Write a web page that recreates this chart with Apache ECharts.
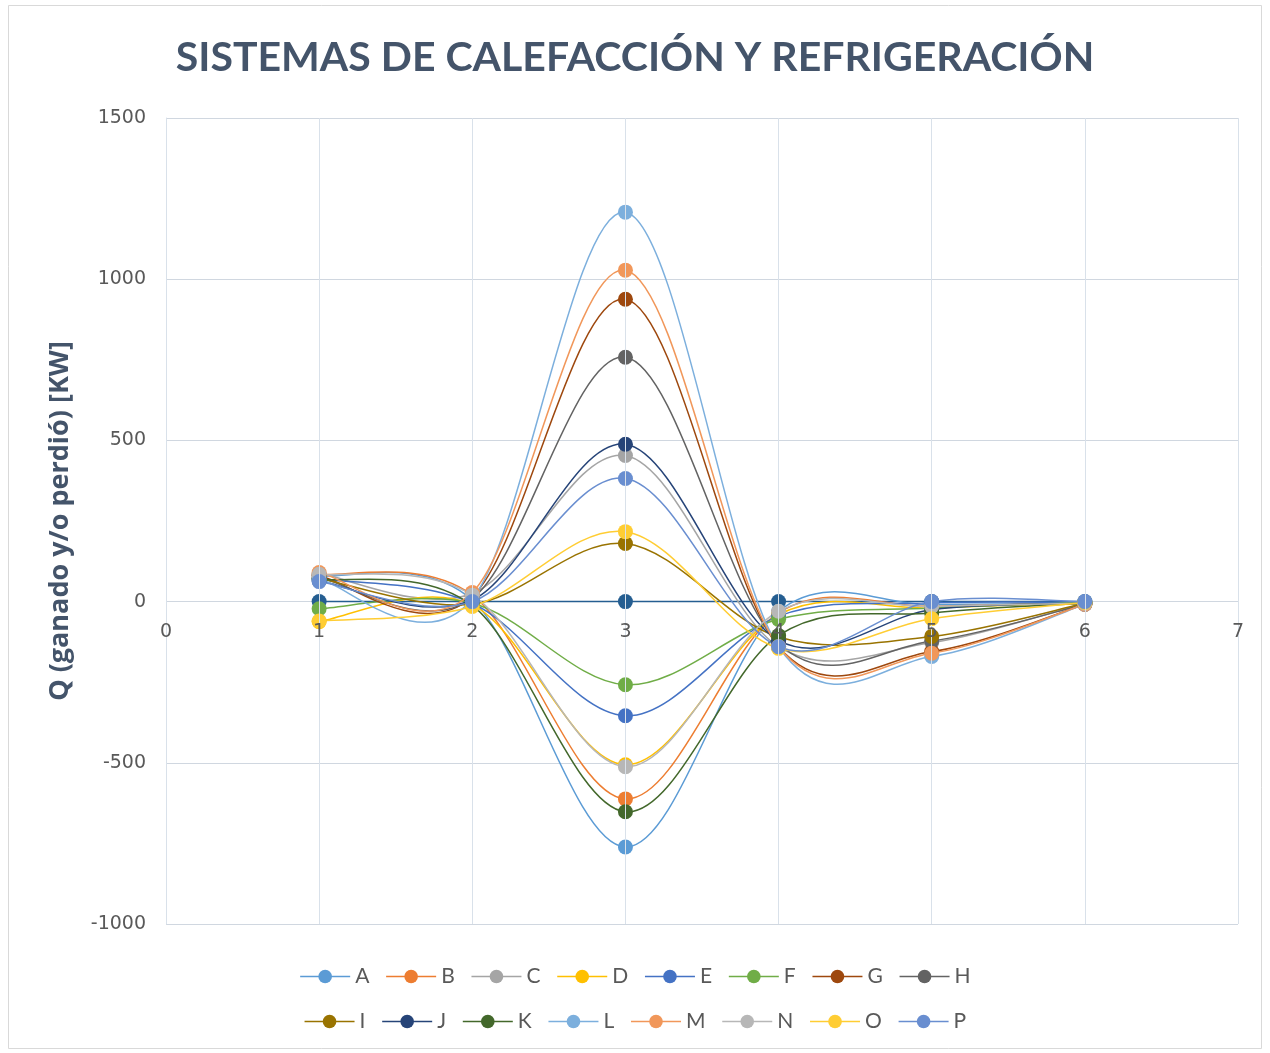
<!DOCTYPE html>
<html>
<head>
<meta charset="utf-8">
<script src="https://cdn.jsdelivr.net/npm/echarts@6/dist/echarts.min.js"></script>
<style>
  html, body { margin: 0; padding: 0; background: #fff; }
  #chart { width: 1270px; height: 1053px; }
</style>
</head>
<body>
<div id="chart"></div>
<script>
// Stages on the x axis
const stages = [1, 2, 3, 4, 5, 6];

// Heat gained (+) or lost (-) per system at each stage, in kW
const A = [80, 5, -761, -30, -10, -5];
const B = [85, 20, -612, -35, -15, -5];
const C = [88, 25, 453, -140, -127, -5];
const D = [-62, -10, -506, -40, -20, -3];
const E = [70, -5, -354, -45, -5, -3];
const F = [-22, -5, -258, -55, -20, -3];
const G = [80, 15, 938, -140, -155, -8];
const H = [75, 10, 758, -130, -122, -8];
const I = [72, -8, 180, -110, -108, -5];
const J = [65, 5, 488, -120, -25, -5];
const K = [70, -12, -652, -105, -35, -5];
const L = [70, 8, 1208, -140, -170, -8];
const M = [90, 28, 1028, -140, -160, -8];
const N = [85, 20, -512, -30, -15, -5];
const O = [-60, -15, 217, -145, -53, -3];
const P = [62, 0, 382, -140, 0, 0];
const baseline = [0, 0, 0, 0, 0, 0];

const names = ['A','B','C','D','E','F','G','H','I','J','K','L','M','N','O','P'];
const colors = ['#5B9BD5','#ED7D31','#A5A5A5','#FFC000','#4472C4','#70AD47','#9E480E','#636363',
                '#997300','#264478','#43682B','#7CAFDD','#F1975A','#B7B7B7','#FFCD33','#698ED0'];

// Y axis ticks
const yMin = -1000, yMax = 1500, yStep = 500;
// X axis ticks
const xMin = 0, xMax = 7, xStep = 1;

// All curves, baseline first so the named systems sit on top of it
const curves = [{ name: 'base', data: baseline, color: '#255E91' }].concat(
  names.map((n, i) => ({ name: n, data: [A, B, C, D, E, F, G, H, I, J, K, L, M, N, O, P][i], color: colors[i] }))
);

// Smoothed curve through the points of one system (Catmull-Rom as cubic Bezier segments)
function renderCurve(params, api) {
  const c = curves[api.value(0)];
  const pts = stages.map((x, i) => api.coord([x, c.data[i]]));
  const children = [];
  for (let i = 0; i < pts.length - 1; i++) {
    const p0 = pts[Math.max(i - 1, 0)];
    const p1 = pts[i];
    const p2 = pts[i + 1];
    const p3 = pts[Math.min(i + 2, pts.length - 1)];
    children.push({
      type: 'bezierCurve',
      shape: {
        x1: p1[0], y1: p1[1],
        cpx1: p1[0] + (p2[0] - p0[0]) / 6, cpy1: p1[1] + (p2[1] - p0[1]) / 6,
        cpx2: p2[0] - (p3[0] - p1[0]) / 6, cpy2: p2[1] - (p3[1] - p1[1]) / 6,
        x2: p2[0], y2: p2[1]
      },
      style: { stroke: c.color, lineWidth: 1.5, fill: null }
    });
  }
  return { type: 'group', children: children };
}

const series = [{
  type: 'custom',
  name: 'curves',
  renderItem: renderCurve,
  data: curves.map((c, i) => [i]),
  encode: { x: -1, y: -1 },
  clip: true,
  silent: true,
  z: 2
}];

curves.forEach(c => series.push({
  name: c.name,
  type: 'line',
  symbol: 'circle',
  symbolSize: 15,
  showSymbol: true,
  data: stages.map((x, i) => [x, c.data[i]]),
  lineStyle: { width: 1.5, color: c.color, opacity: 0 },
  itemStyle: { color: c.color },
  emphasis: { disabled: true },
  silent: true,
  z: 3
}));

const legendCommon = {
  left: 'center',
  itemWidth: 50,
  itemHeight: 17,
  itemGap: 16,
  lineStyle: { opacity: 1, width: 1.5 },
  textStyle: { color: '#595959', fontSize: 21, fontFamily: 'Lato', width: 18 },
  selectedMode: false
};

const chart = echarts.init(document.getElementById('chart'), null, { renderer: 'canvas' });
chart.setOption({
  backgroundColor: '#fff',
  animation: false,
  graphic: [{
    type: 'rect',
    shape: { x: 8.5, y: 5.5, width: 1253, height: 1043 },
    style: { fill: null, stroke: '#D9D9D9', lineWidth: 1 },
    silent: true, z: -1
  }],
  title: {
    text: 'SISTEMAS DE CALEFACCIÓN Y REFRIGERACIÓN',
    left: 'center',
    top: 32,
    textStyle: { color: '#44546A', fontSize: 41, fontWeight: 'bold', fontFamily: 'Lato' }
  },
  legend: [
    Object.assign({}, legendCommon, { top: 961, data: names.slice(0, 8) }),
    Object.assign({}, legendCommon, { top: 1006, data: names.slice(8) })
  ],
  grid: { left: 166, right: 32, top: 118, bottom: 129, containLabel: false },
  xAxis: {
    type: 'value',
    min: xMin, max: xMax, interval: xStep,
    z: 5,
    axisLine: { show: false, onZero: false },
    axisTick: { show: false },
    axisLabel: { color: '#595959', fontSize: 19, fontFamily: 'DejaVu Sans', margin: 21 },
    splitLine: { show: true, lineStyle: { color: '#D9E1EA', width: 1 } }
  },
  yAxis: {
    type: 'value',
    min: yMin, max: yMax, interval: yStep,
    name: 'Q (ganado y/o perdió) [KW]',
    nameLocation: 'middle',
    nameGap: 92,
    nameTextStyle: { color: '#44546A', fontSize: 27, fontWeight: 'bold', fontFamily: 'Open Sans' },
    axisLine: { show: true, onZero: false, lineStyle: { color: '#D9E1EA', width: 1 } },
    axisTick: { show: false },
    axisLabel: { color: '#595959', fontSize: 19, fontFamily: 'DejaVu Sans', margin: 20, formatter: v => String(v) },
    splitLine: { show: true, lineStyle: { color: '#D0D7E0', width: 1 } }
  },
  series: series
});

// Place the x axis labels where the y scale crosses zero
const zeroY = chart.convertToPixel({ yAxisIndex: 0 }, 0);
const bottomY = chart.convertToPixel({ yAxisIndex: 0 }, yMin);
chart.setOption({ xAxis: { offset: zeroY - bottomY } });
</script>
</body>
</html>
